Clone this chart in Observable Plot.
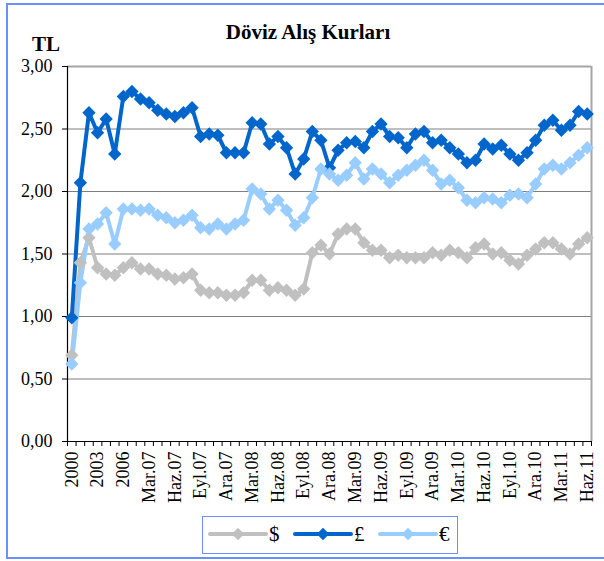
<!DOCTYPE html>
<html>
<head>
<meta charset="utf-8">
<script src="https://cdn.jsdelivr.net/npm/d3@7"></script>
<script src="https://cdn.jsdelivr.net/npm/@observablehq/plot@0.6"></script>
<style>
  html, body { margin: 0; padding: 0; background: #fff; }
  #wrap { position: relative; width: 604px; height: 561px; overflow: hidden; font-family: "Liberation Serif", "Times New Roman", serif; }
  #frame { position: absolute; left: 6px; top: 3px; width: 640px; height: 552px; border: 2px solid #6b8ffb; }
  #chart { position: absolute; left: 0; top: 0; }
  #overlay { position: absolute; left: 0; top: 0; }
  #legend { position: absolute; left: 202px; top: 516px; width: 254px; height: 36px; border: 1px solid #6b8ffb; background: #fff; }
</style>
</head>
<body>
<div id="wrap">
  <div id="frame"></div>
  <div id="chart"></div>
  <svg id="overlay" width="604" height="80"></svg>
  <div id="legend"></div>
</div>
<script>
const title = "Döviz Alış Kurları";
const yUnit = "TL";

const categories = [
  "2000","2001","2002","2003","2004","2005","2006",
  "Oca.07","Şub.07","Mar.07","Nis.07","May.07","Haz.07","Tem.07","Ağu.07","Eyl.07","Eki.07","Kas.07","Ara.07",
  "Oca.08","Şub.08","Mar.08","Nis.08","May.08","Haz.08","Tem.08","Ağu.08","Eyl.08","Eki.08","Kas.08","Ara.08",
  "Oca.09","Şub.09","Mar.09","Nis.09","May.09","Haz.09","Tem.09","Ağu.09","Eyl.09","Eki.09","Kas.09","Ara.09",
  "Oca.10","Şub.10","Mar.10","Nis.10","May.10","Haz.10","Tem.10","Ağu.10","Eyl.10","Eki.10","Kas.10","Ara.10",
  "Oca.11","Şub.11","Mar.11","Nis.11","May.11","Haz.11"
];

const xTickLabels = ["2000","2003","2006","Mar.07","Haz.07","Eyl.07","Ara.07","Mar.08","Haz.08","Eyl.08","Ara.08",
  "Mar.09","Haz.09","Eyl.09","Ara.09","Mar.10","Haz.10","Eyl.10","Ara.10","Mar.11","Haz.11"];

const yTicks = [0, 0.5, 1, 1.5, 2, 2.5, 3];

const seriesNames = ["$", "£", "€"];

const usd = [0.69,1.43,1.63,1.39,1.34,1.33,1.39,1.43,1.38,1.38,
  1.34,1.33,1.30,1.31,1.34,1.21,1.19,1.19,1.17,1.17,
  1.19,1.29,1.29,1.21,1.23,1.21,1.17,1.22,1.51,1.57,
  1.50,1.66,1.70,1.70,1.59,1.53,1.53,1.47,1.49,1.47,
  1.47,1.47,1.51,1.49,1.53,1.51,1.47,1.55,1.58,1.50,
  1.51,1.45,1.42,1.49,1.54,1.59,1.59,1.54,1.50,1.58,1.63];

const gbp = [0.99,2.07,2.63,2.47,2.58,2.30,2.76,2.80,2.74,2.71,
  2.65,2.62,2.60,2.63,2.67,2.44,2.46,2.45,2.31,2.31,
  2.31,2.55,2.54,2.38,2.44,2.35,2.14,2.26,2.48,2.41,
  2.19,2.33,2.39,2.40,2.35,2.48,2.54,2.44,2.43,2.35,
  2.46,2.48,2.39,2.41,2.35,2.30,2.23,2.25,2.38,2.34,
  2.37,2.30,2.25,2.31,2.41,2.53,2.57,2.49,2.53,2.64,2.62];

const eur = [0.62,1.27,1.70,1.74,1.83,1.58,1.86,1.86,1.85,1.86,
  1.81,1.79,1.75,1.77,1.81,1.71,1.70,1.74,1.70,1.74,
  1.77,2.02,1.98,1.86,1.93,1.85,1.73,1.79,1.95,2.18,
  2.14,2.09,2.13,2.23,2.10,2.18,2.14,2.07,2.13,2.17,
  2.21,2.25,2.17,2.06,2.09,2.03,1.93,1.91,1.95,1.94,
  1.91,1.97,1.98,1.95,2.06,2.18,2.21,2.18,2.23,2.29,2.35];

const seriesValues = [usd, gbp, eur];
const seriesColors = ["#C0C0C0", "#0066CC", "#99CCFF"];

// long-format table for Plot
const rows = [];
seriesNames.forEach((s, k) => {
  seriesValues[k].forEach((v, i) => rows.push({ s, i, cat: categories[i], v }));
});

const n = categories.length;
const boundaries = d3.range(n + 1).map(k => k - 0.5);
const labelIdx = xTickLabels.map(l => categories.indexOf(l));
const fmt = d => d.toFixed(2).replace(".", ",");
const font = "'Liberation Serif', 'Times New Roman', serif";

const chart = Plot.plot({
  width: 604,
  height: 510,
  marginLeft: 67,
  marginRight: 13,
  marginTop: 66,
  marginBottom: 69,
  style: { fontFamily: font, fontSize: "18px", color: "#000", background: "transparent", overflow: "visible" },
  x: { type: "linear", domain: [-0.5, n - 0.5] },
  y: { domain: [0, 3] },
  color: { domain: seriesNames, range: seriesColors },
  marks: [
    Plot.ruleY(yTicks.filter(v => v > 0 && v < 3), { stroke: "#7f7f7f", strokeWidth: 1 }),
    Plot.ruleY([d3.max(yTicks)], { stroke: "#a6a6a6", strokeWidth: 2 }),
    Plot.ruleX([n - 0.5], { stroke: "#a6a6a6", strokeWidth: 2 }),
    Plot.axisY({ ticks: yTicks, tickFormat: fmt, tickSize: 5, tickPadding: 10, label: null, fontSize: 18, stroke: "#000" }),
    Plot.ruleX([-0.5], { stroke: "#000", strokeWidth: 1.2 }),
    Plot.ruleY([0], { stroke: "#000", strokeWidth: 1.2 }),
    Plot.axisX({ ticks: boundaries, tickFormat: () => "", tickSize: 5, label: null, stroke: "#000" }),
    Plot.axisX({ ticks: labelIdx, tickFormat: i => categories[i], tickSize: 0, tickPadding: 10, tickRotate: -90, label: null, fontSize: 18 }),
    Plot.line(rows, { x: "i", y: "v", z: "s", stroke: "s", strokeWidth: 4, strokeLinejoin: "round" }),
    Plot.dot(rows, { x: "i", y: "v", fill: "s", stroke: null, symbol: "diamond2", r: 6 })
  ]
});
document.getElementById("chart").appendChild(chart);

// Title and unit
const ov = d3.select("#overlay");
ov.append("text").attr("x", 308).attr("y", 39).attr("text-anchor", "middle")
  .attr("font-family", font).attr("font-weight", "bold").attr("font-size", 21).text(title);
ov.append("text").attr("x", 32).attr("y", 51)
  .attr("font-family", font).attr("font-weight", "bold").attr("font-size", 21).text(yUnit);

// Legend
const lg = d3.select("#legend").append("svg").attr("width", 254).attr("height", 36);
const itemX = [7, 92, 177];
seriesNames.forEach((s, k) => {
  const g = lg.append("g").attr("transform", `translate(${itemX[k]},17)`);
  g.append("line").attr("x1", 0).attr("x2", 56).attr("y1", 0).attr("y2", 0)
    .attr("stroke", seriesColors[k]).attr("stroke-width", 4).attr("stroke-linecap", "round");
  g.append("path").attr("d", d3.symbol(d3.symbolDiamond2, 100)()).attr("transform", "translate(28,0)")
    .attr("fill", seriesColors[k]);
  g.append("text").attr("x", 59).attr("y", 7).attr("font-family", font).attr("font-size", 21).text(s);
});
</script>
</body>
</html>
